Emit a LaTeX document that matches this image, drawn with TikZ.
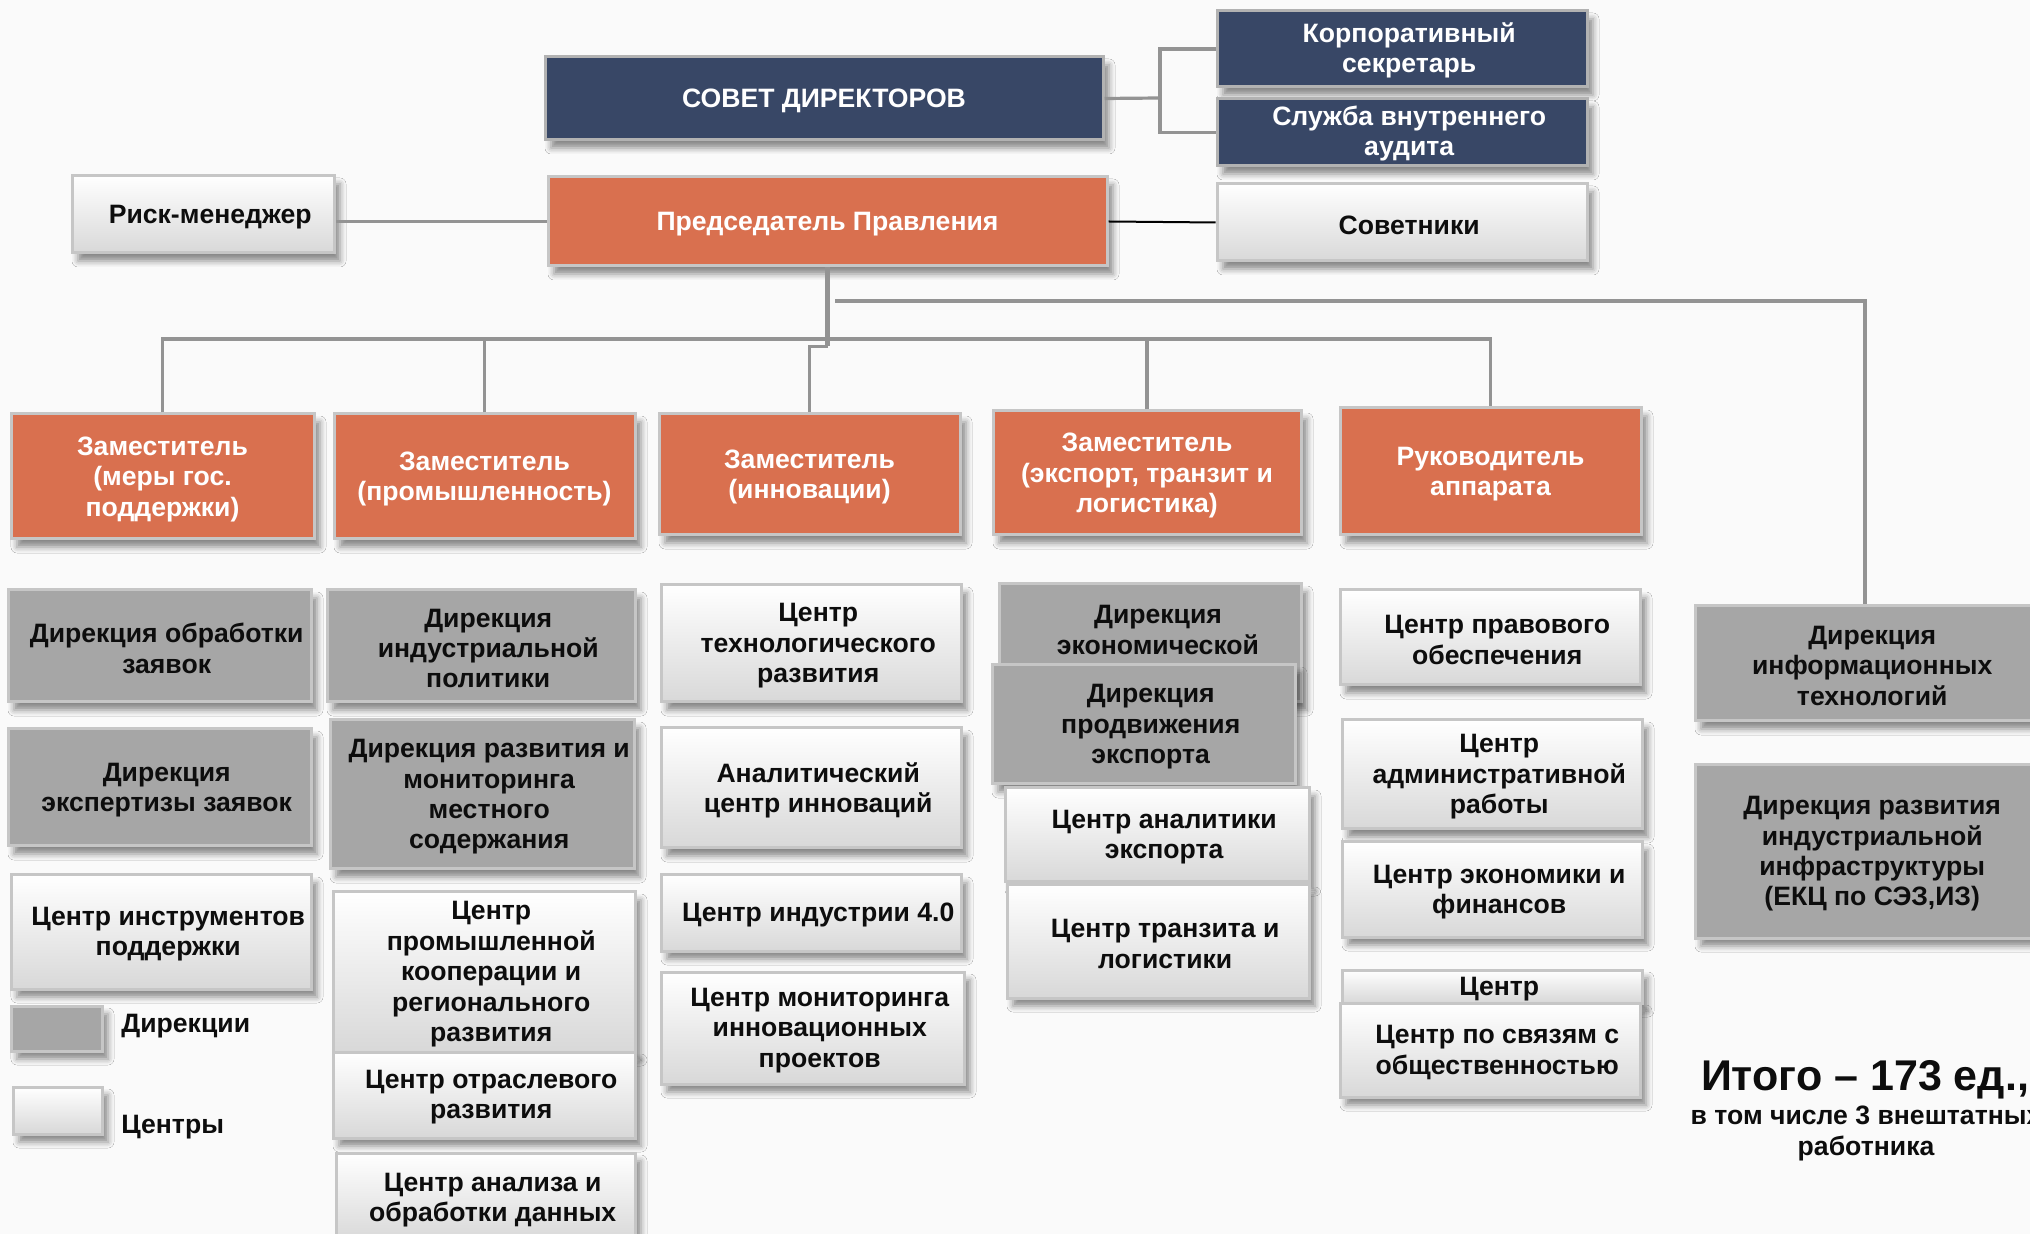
\documentclass[tikz,border=0pt]{standalone}
\usepackage{fontspec}
\setmainfont{Liberation Sans}
\usetikzlibrary{shadows.blur}
\definecolor{navyc}{HTML}{384766}
\definecolor{orc}{HTML}{D9704F}
\definecolor{dgc}{HTML}{A6A6A6}
\definecolor{ctrbot}{HTML}{D8D8D8}
\definecolor{bdc}{HTML}{C6C6C6}
\definecolor{lnc}{HTML}{939393}
\definecolor{bgc}{HTML}{FAFAFA}
\definecolor{txc}{HTML}{0D0D0D}
\tikzset{
 base/.style={inner sep=0pt, draw=bdc, line width=1.5pt,
   blur shadow={shadow xshift=3pt, shadow yshift=-4pt, shadow blur radius=3pt, shadow opacity=45}},
 navybox/.style={base, fill=navyc, draw=gray!60},
 orbox/.style={base, fill=orc},
 dirbox/.style={base, fill=dgc},
 ctrbox/.style={base, top color=white, bottom color=ctrbot},
 txt/.style={inner sep=0pt, align=center, font=\bfseries\fontsize{13.3}{15.2}\selectfont, text=txc},
 wlbl/.style={txt, text=white, yshift=-1.3pt},
 wlbs/.style={txt, text=white, xshift=3.6pt, yshift=-0.6pt},
 blbl/.style={txt, xshift=3.6pt, yshift=-1.2pt},
 conn/.style={draw=lnc, line width=1.6pt},
}
% \bx{name}{box style}{text style}{x1}{y1}{x2}{y2}{text}  (pixel coordinates, y downwards)
\newcommand\bx[8]{\node[#2, minimum width={(#6-#4)*0.5pt}, minimum height={(#7-#5)*0.5pt},
  label={[#3]center:{#8}}] (#1) at ({(#4+#6)/2},{(#5+#7)/2}) {};}
\begin{document}
\begin{tikzpicture}[x=0.5pt,y=-0.5pt]
\useasboundingbox (0,0) rectangle (2030,1234);
\clip (0,0) rectangle (2030,1234);
\fill[bgc] (0,0) rectangle (2030,1234);

\coordinate (brk) at (1160,98);
\coordinate (bus) at (828,339);
\coordinate (itbus) at (835,301);

% top level
\bx{sovet}{navybox}{wlbl}{545}{57}{1103}{140}{СОВЕТ ДИРЕКТОРОВ}
\bx{korp}{navybox}{wlbs}{1217}{11}{1587}{87}{Корпоративный\\секретарь}
\bx{audit}{navybox}{wlbs}{1217}{99}{1587}{166}{Служба внутреннего\\аудита}
\bx{pred}{orbox}{wlbl}{548}{177}{1107}{266}{Председатель Правления}
\bx{risk}{ctrbox}{blbl}{72}{176}{334}{253}{Риск-менеджер}
\bx{advis}{ctrbox}{blbl}{1217}{184}{1587}{261}{Советники}

\draw[conn] (sovet.east) -- (brk);
\draw[conn] (korp.west) -| (brk) |- (audit.west);
\draw[conn] (pred.west) -- (pred.west -| risk.east);
\draw[black, line width=1pt] (pred.east) -- (advis.west);

% deputies
\bx{d1}{orbox}{wlbl}{11}{414}{314}{539}{Заместитель\\(меры гос.\\поддержки)}
\bx{d2}{orbox}{wlbl}{334}{414}{635}{539}{Заместитель\\(промышленность)}
\bx{d3}{orbox}{wlbl}{659}{414}{960}{535}{Заместитель\\(инновации)}
\bx{d4}{orbox}{wlbl}{993}{411}{1301}{535}{Заместитель\\(экспорт, транзит и\\логистика)}
\bx{d5}{orbox}{wlbl}{1340}{408}{1641}{535}{Руководитель\\аппарата}

% right column directions
\bx{dit}{dirbox}{blbl}{1695}{606}{2035}{721}{Дирекция\\информационных\\технологий}
\bx{dinf}{dirbox}{blbl}{1695}{765}{2035}{938}{Дирекция развития\\индустриальной\\инфраструктуры\\(ЕКЦ по СЭЗ,ИЗ)}

\draw[conn, line width=2.2pt] (pred.south) -- ++(0,79) coordinate (jog);
\draw[conn] (jog) -| (d3.north);
\draw[conn] (d1.north) |- (bus) -| (d5.north);
\draw[conn] (d2.north) -- (d2.north |- bus);
\draw[conn] (d4.north) -- (d4.north |- bus);
\draw[conn] (itbus) -| (dit.north);

% column 1
\bx{c1a}{dirbox}{blbl}{8}{590}{311}{702}{Дирекция обработки\\заявок}
\bx{c1b}{dirbox}{blbl}{8}{729}{311}{846}{Дирекция\\экспертизы заявок}
\bx{c1c}{ctrbox}{blbl}{11}{875}{311}{989}{Центр инструментов\\поддержки}

% legend
\bx{legD}{dirbox}{txt}{11}{1006}{102}{1051}{}
\node[txt, anchor=west] (legDt) at (121,1026) {Дирекции};
\bx{legC}{ctrbox}{txt}{13}{1087}{102}{1134}{}
\node[txt, anchor=west] (legCt) at (121,1127) {Центры};

% column 2
\bx{c2a}{dirbox}{blbl}{327}{590}{635}{702}{Дирекция\\индустриальной\\политики}
\bx{c2b}{dirbox}{blbl}{330}{720}{634}{869}{Дирекция развития и\\мониторинга\\местного\\содержания}
\bx{c2c}{ctrbox}{blbl}{333}{892}{635}{1052}{Центр\\промышленной\\кооперации и\\регионального\\развития}
\bx{c2d}{ctrbox}{blbl}{333}{1052}{635}{1138}{Центр отраслевого\\развития}
\bx{c2e}{ctrbox}{blbl}{336}{1153}{635}{1242}{Центр анализа и\\обработки данных}

% column 3
\bx{c3a}{ctrbox}{blbl}{661}{585}{961}{702}{Центр\\технологического\\развития}
\bx{c3b}{ctrbox}{blbl}{661}{728}{961}{848}{Аналитический\\центр инноваций}
\bx{c3c}{ctrbox}{blbl}{661}{875}{961}{951}{Центр индустрии 4.0}
\bx{c3d}{ctrbox}{blbl}{661}{972}{964}{1084}{Центр мониторинга\\инновационных\\проектов}

% column 4
\bx{c4a}{dirbox}{txt}{999}{584}{1301}{702}{}
\node[txt] (c4at) at (1158,630) {Дирекция\\экономической};
\bx{c4b}{dirbox}{blbl}{992}{665}{1295}{784}{Дирекция\\продвижения\\экспорта}
\bx{c4c}{ctrbox}{blbl}{1005}{788}{1309}{882}{Центр аналитики\\экспорта}
\bx{c4d}{ctrbox}{blbl}{1007}{885}{1309}{998}{Центр транзита и\\логистики}

% column 5
\bx{c5a}{ctrbox}{blbl}{1340}{590}{1640}{685}{Центр правового\\обеспечения}
\bx{c5b}{ctrbox}{blbl}{1342}{720}{1642}{829}{Центр\\административной\\работы}
\bx{c5c}{ctrbox}{blbl}{1342}{842}{1642}{937}{Центр экономики и\\финансов}
\bx{c5d}{ctrbox}{blbl}{1342}{970}{1642}{1003}{Центр}
\bx{c5e}{ctrbox}{blbl}{1340}{1003}{1640}{1097}{Центр по связям с\\общественностью}

% totals
\node[txt, font=\bfseries\fontsize{21.5}{26}\selectfont] (itogo) at (1865,1080) {Итого – 173 ед.,};
\node[txt, font=\bfseries\fontsize{13.3}{15.5}\selectfont] (itogo2) at (1866,1133) {в том числе 3 внештатных\\работника};
\end{tikzpicture}
\end{document}
